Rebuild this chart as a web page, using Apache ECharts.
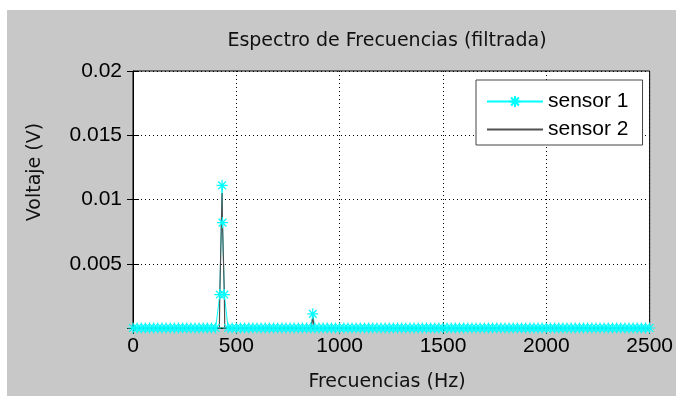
<!DOCTYPE html>
<html>
<head>
<meta charset="utf-8">
<script src="https://cdn.jsdelivr.net/npm/echarts@6/dist/echarts.min.js"></script>
<style>
html,body{margin:0;padding:0;background:#fff;}
#chart{width:676px;height:396px;}
</style>
</head>
<body>
<div id="chart"></div>
<script>
// ---- data (frequency in Hz, voltage in V) ----
const titleText = 'Espectro de Frecuencias (filtrada)';
const xName = 'Frecuencias (Hz)';
const yName = 'Voltaje (V)';
const seriesNames = ['sensor 1', 'sensor 2'];
const xTicks = [0, 500, 1000, 1500, 2000, 2500];
const yTicks = [0, 0.005, 0.01, 0.015, 0.02];

const sensor1 = [
  [0,0],[20,0],[40,0],[60,0],[80,0],[100,0],[120,0],[140,0],[160,0],[180,0],
  [200,0],[220,0],[240,0],[260,0],[280,0],[300,0],[320,0],[340,0],[360,0],[380,0],
  [400,0],[420,0.0026],[431,0.0111],[433,0.0082],[442,0.0026],
  [460,0],[480,0],[500,0],[520,0],[540,0],[560,0],[580,0],[600,0],[620,0],[640,0],
  [660,0],[680,0],[700,0],[720,0],[740,0],[760,0],[780,0],[800,0],[820,0],[840,0],
  [860,0],[870,0.0011],
  [880,0],[900,0],[920,0],[940,0],[960,0],[980,0],
  [1000,0],[1020,0],[1040,0],[1060,0],[1080,0],[1100,0],[1120,0],[1140,0],[1160,0],[1180,0],
  [1200,0],[1220,0],[1240,0],[1260,0],[1280,0],[1300,0],[1320,0],[1340,0],[1360,0],[1380,0],
  [1400,0],[1420,0],[1440,0],[1460,0],[1480,0],[1500,0],[1520,0],[1540,0],[1560,0],[1580,0],
  [1600,0],[1620,0],[1640,0],[1660,0],[1680,0],[1700,0],[1720,0],[1740,0],[1760,0],[1780,0],
  [1800,0],[1820,0],[1840,0],[1860,0],[1880,0],[1900,0],[1920,0],[1940,0],[1960,0],[1980,0],
  [2000,0],[2020,0],[2040,0],[2060,0],[2080,0],[2100,0],[2120,0],[2140,0],[2160,0],[2180,0],
  [2200,0],[2220,0],[2240,0],[2260,0],[2280,0],[2300,0],[2320,0],[2340,0],[2360,0],[2380,0],
  [2400,0],[2420,0],[2440,0],[2460,0],[2480,0],[2500,0]
];

const sensor2 = [
  [0,0],[418,0],[420,0.0026],[431,0.0105],[433,0.0082],[442,0.0026],[444,0],
  [864,0],[866,0.0004],[870,0.00085],[874,0.0004],[876,0],[2500,0]
];

// ---- chart ----
const FONT_NUM = '"Liberation Sans", Arial, sans-serif';
const FONT_TXT = '"DejaVu Sans", Tahoma, sans-serif';
const starPath = 'path://M0,-10L0,10M-10,0L10,0M-7,-7L7,7M-7,7L7,-7';

const chart = echarts.init(document.getElementById('chart'), null, {renderer: 'canvas'});
chart.setOption({
  backgroundColor: 'transparent',
  animation: false,
  graphic: [
    {type: 'rect', z: -10, silent: true, shape: {x: 7, y: 10, width: 669, height: 386}, style: {fill: '#c8c8c8'}},
    {type: 'text', x: 387, y: 41, style: {text: titleText, font: '19px ' + FONT_TXT, fill: '#111', align: 'center', verticalAlign: 'middle'}},
    {type: 'text', x: 387, y: 382, style: {text: xName, font: '19px ' + FONT_TXT, fill: '#111', align: 'center', verticalAlign: 'middle'}},
    {type: 'text', x: 35, y: 172, rotation: Math.PI / 2, style: {text: yName, font: '19px ' + FONT_TXT, fill: '#111', align: 'center', verticalAlign: 'middle'}}
  ],
  grid: {left: 133, top: 71, right: 25, bottom: 68, show: true, backgroundColor: '#fff', borderColor: '#000', borderWidth: 1, containLabel: false},
  legend: {
    orient: 'vertical', left: 476, top: 80,
    padding: [11, 14, 5, 10], itemGap: 7, itemWidth: 56, itemHeight: 14,
    backgroundColor: '#fff', borderColor: '#444', borderWidth: 1, borderRadius: 0,
    textStyle: {fontFamily: FONT_NUM, fontSize: 21, color: '#000'},
    data: [{name: seriesNames[0]}, {name: seriesNames[1], itemStyle: {opacity: 0}}]
  },
  xAxis: [{
    type: 'value', min: xTicks[0], max: xTicks[xTicks.length - 1], interval: 500,
    axisLine: {show: true, onZero: false, lineStyle: {color: '#000', width: 1}},
    axisTick: {show: true, inside: true, length: 6, lineStyle: {color: '#000'}},
    axisLabel: {fontFamily: FONT_NUM, fontSize: 21, color: '#000', margin: 8, formatter: v => String(v)},
    splitLine: {show: true, lineStyle: {color: '#000', type: [1, 3], width: 1}}
  }, {
    type: 'value', position: 'top', min: xTicks[0], max: xTicks[xTicks.length - 1], interval: 500,
    axisLine: {show: false}, axisLabel: {show: false}, splitLine: {show: false},
    axisTick: {show: true, inside: true, length: 6, lineStyle: {color: '#000'}}
  }],
  yAxis: [{
    type: 'value', min: yTicks[0], max: yTicks[yTicks.length - 1], interval: 0.005,
    axisLine: {show: true, onZero: false, lineStyle: {color: '#000', width: 1}},
    axisTick: {show: true, inside: true, length: 6, lineStyle: {color: '#000'}},
    axisLabel: {fontFamily: FONT_NUM, fontSize: 21, color: '#000', margin: 11,
      formatter: v => (v === 0 ? '' : String(+v.toFixed(3)))},
    splitLine: {show: true, lineStyle: {color: '#000', type: [1, 3], width: 1}}
  }, {
    type: 'value', position: 'right', min: yTicks[0], max: yTicks[yTicks.length - 1], interval: 0.005,
    axisLine: {show: false}, axisLabel: {show: false}, splitLine: {show: false},
    axisTick: {show: true, inside: true, length: 6, lineStyle: {color: '#000'}}
  }],
  series: [{
    name: seriesNames[0], type: 'line', data: sensor1,
    symbol: starPath, symbolSize: 11, showAllSymbol: true,
    lineStyle: {color: '#00ffff', width: 1},
    itemStyle: {color: '#00ffff', borderColor: '#00ffff', borderWidth: 1.2},
    clip: true
  }, {
    name: seriesNames[1], type: 'line', data: sensor2,
    symbol: 'none',
    lineStyle: {color: '#505050', width: 1.2},
    itemStyle: {color: '#505050'}
  }]
});
</script>
</body>
</html>
